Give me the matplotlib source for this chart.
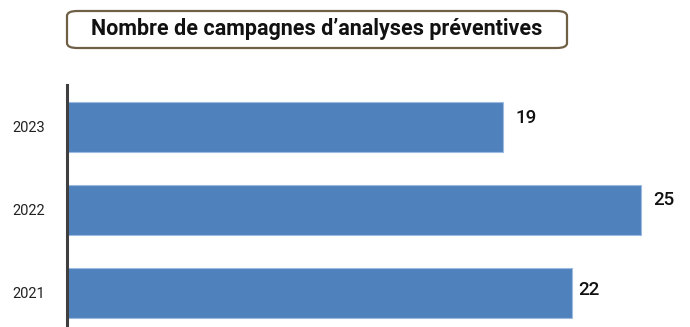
import matplotlib
matplotlib.use("Agg")
import matplotlib.pyplot as plt
from matplotlib.patches import FancyBboxPatch

# data
years = ["2021", "2022", "2023"]
campagnes = [22, 25, 19]
title = "Nombre de campagnes d\u2019analyses préventives"

W, H = 690, 327
fig = plt.figure(figsize=(W / 100, H / 100), dpi=100)
plt.rcParams["font.family"] = ["Roboto", "DejaVu Sans"]

# axes placed in pixel terms
ax = fig.add_axes([67 / W, 0, (W - 67) / W, (327 - 85) / H])
pos = list(range(len(years)))
ax.barh(pos, campagnes, height=0.6, color="#4f81bd", edgecolor="#9dbbe0", linewidth=0.8)
ax.set_xlim(0, 623 / 22.96)
ax.set_ylim(-0.41, 2.506)

# value labels (slightly above bar centre like in the original)
label_dx = [0.25, 0.55, 0.55]
label_dy = [0.04, 0.12, 0.11]
for p, v, dx, dy in zip(pos, campagnes, label_dx, label_dy):
    ax.text(v + dx, p + dy, str(v), va="center", ha="left",
            fontsize=13.5, fontweight="medium", color="#111111")

ax.set_yticks(pos)
ax.set_yticklabels(years, fontsize=10.5, color="#222222")
ax.tick_params(axis="y", length=0, pad=16)
ax.set_xticks([])
for s in ["top", "right", "bottom"]:
    ax.spines[s].set_visible(False)
ax.spines["left"].set_color("#3f3f3f")
ax.spines["left"].set_linewidth(2.2)

# title box
box = FancyBboxPatch((67 / W, 1 - 48 / H), (567 - 67) / W, 37 / H,
                     boxstyle="round,pad=0,rounding_size=0.015",
                     transform=fig.transFigure, facecolor="white",
                     edgecolor="#6e5f45", linewidth=1.6)
fig.patches.append(box)
fig.text(317 / W, 1 - 29.5 / H, title, ha="center", va="center",
         fontsize=15.5, fontweight="bold", color="#111111")

fig.savefig("out.png", dpi=100)
